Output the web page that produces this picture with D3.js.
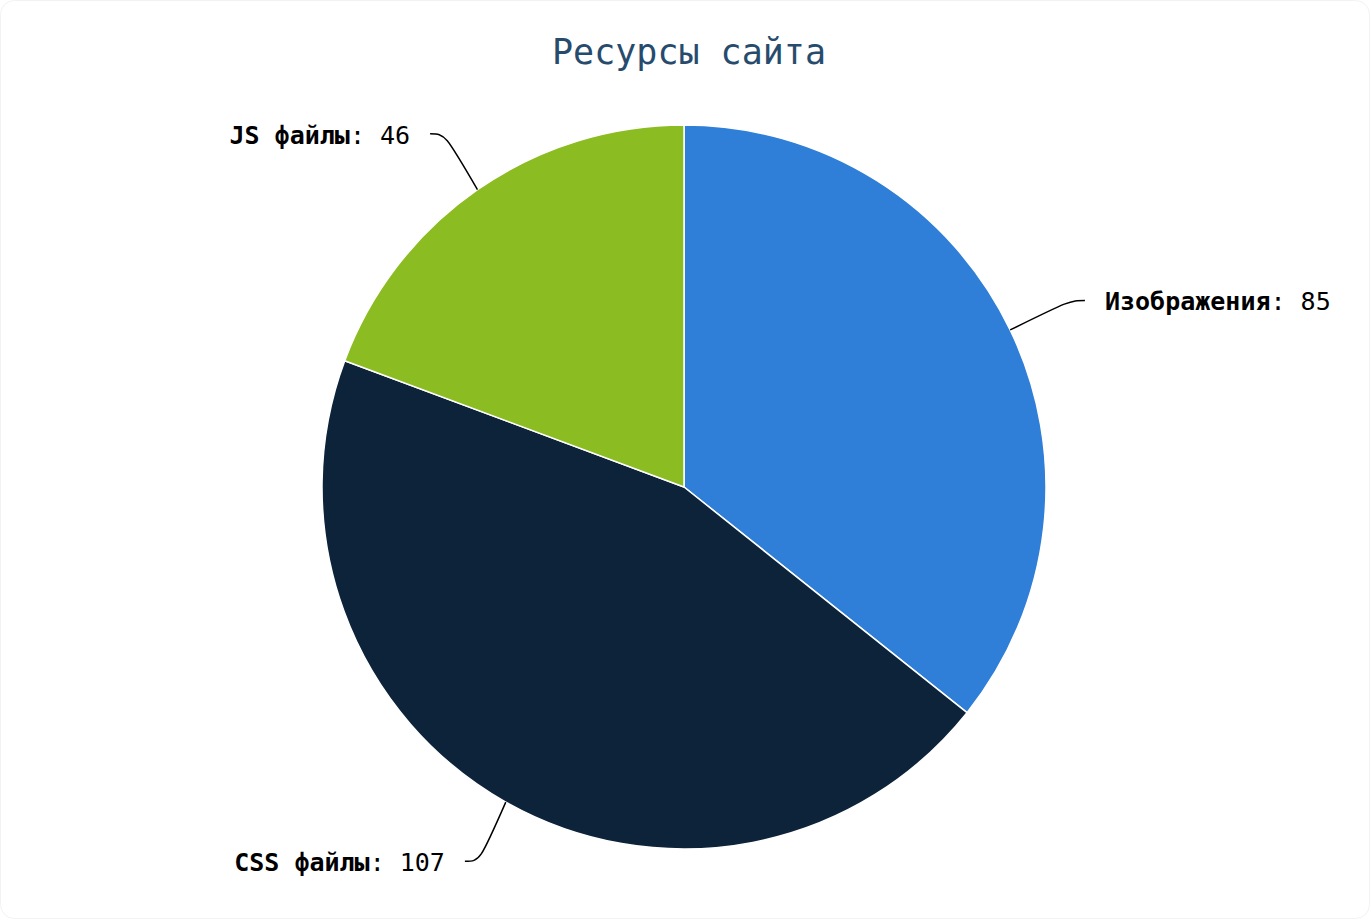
<!DOCTYPE html>
<html>
<head>
<meta charset="utf-8">
<script src="https://cdn.jsdelivr.net/npm/d3@7"></script>
<style>
  html, body { margin: 0; padding: 0; background: #ffffff; }
  svg { display: block; font-family: "DejaVu Sans Mono", monospace; }
  .title { fill: #274b6d; font-size: 35px; }
  .label { fill: #000000; font-size: 25px; }
  .connector { fill: none; stroke: #000000; stroke-width: 1.5px; }
</style>
</head>
<body>
<div id="chart"></div>
<script>
// Data
var categories = ["Изображения", "CSS файлы", "JS файлы"];
var values = [85, 107, 46];
var sliceColors = ["#2f7ed8", "#0d233a", "#8bbc21"];
var titleText = "Ресурсы сайта";

// Size
var width = 1370,
    height = 919;

// Pie geometry
var cx = 684,
    cy = 487,
    radius = 362,
    labelRx = radius + 83,
    labelRy = radius + 68,
    textPadding = 20;

var svg = d3.select("#chart").append("svg")
  .attr("width", width)
  .attr("height", height);

// Faint rounded frame
svg.append("rect")
  .attr("x", 0.5)
  .attr("y", 0.5)
  .attr("width", width - 1)
  .attr("height", height - 1)
  .attr("rx", 14)
  .attr("fill", "#ffffff")
  .attr("stroke", "#f2f2f2");

// Title
svg.append("text")
  .attr("class", "title")
  .attr("x", 689)
  .attr("y", 64)
  .attr("text-anchor", "middle")
  .text(titleText);

var data = categories.map(function(c, i) {
  return { name: c, value: values[i], color: sliceColors[i] };
});

var pie = d3.pie()
  .sort(null)
  .value(function(d) { return d.value; });

var arc = d3.arc().innerRadius(0).outerRadius(radius);
var edgeArc = d3.arc().innerRadius(radius).outerRadius(radius);

// Label anchor on an ellipse around the pie
function labelPoint(d) {
  var a = (d.startAngle + d.endAngle) / 2;
  return [Math.sin(a) * labelRx, -Math.cos(a) * labelRy];
}

var g = svg.append("g")
  .attr("transform", "translate(" + cx + "," + cy + ")");

var arcs = pie(data);

// Slices
g.selectAll(".slice")
  .data(arcs).enter()
  .append("path")
    .attr("class", "slice")
    .attr("d", arc)
    .attr("fill", function(d) { return d.data.color; })
    .attr("stroke", "#ffffff")
    .attr("stroke-width", 1.5)
    .attr("stroke-linejoin", "round");

// Connectors
g.selectAll(".connector")
  .data(arcs).enter()
  .append("path")
    .attr("class", "connector")
    .attr("d", function(d) {
      var a = labelPoint(d),
          e = edgeArc.centroid(d),
          dir = a[0] < 0 ? 1 : -1,
          k = a[0] + dir * 15;
      return "M" + a[0] + "," + a[1] +
             "C" + k + "," + a[1] + " " + k + "," + a[1] + " " + e[0] + "," + e[1];
    });

// Labels
var labels = g.selectAll(".label")
  .data(arcs).enter()
  .append("text")
    .attr("class", "label")
    .attr("x", function(d) {
      var a = labelPoint(d);
      return a[0] < 0 ? a[0] - textPadding : a[0] + textPadding;
    })
    .attr("y", function(d) { return labelPoint(d)[1]; })
    .attr("dy", "0.4em")
    .attr("text-anchor", function(d) {
      return labelPoint(d)[0] < 0 ? "end" : "start";
    });

labels.append("tspan")
  .attr("font-weight", "bold")
  .text(function(d) { return d.data.name; });

labels.append("tspan")
  .text(function(d) { return ": " + d.data.value; });
</script>
</body>
</html>
